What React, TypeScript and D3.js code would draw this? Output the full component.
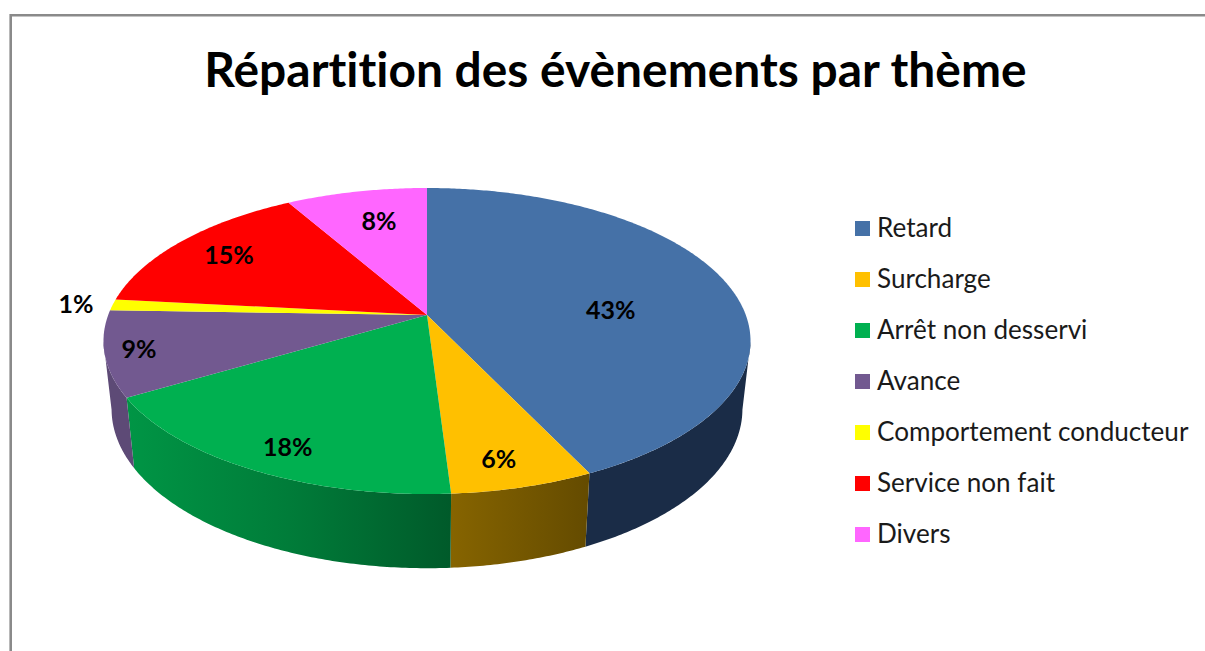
import React from 'react';
import * as d3 from 'd3';

const categories = ['Retard', 'Surcharge', 'Arrêt non desservi', 'Avance', 'Comportement conducteur', 'Service non fait', 'Divers'];
const values = [42.9, 6.1, 17.5, 9, 1.2, 15, 8.3];
const labels = ['43%', '6%', '18%', '9%', '1%', '15%', '8%'];
const colors = ['#4571a7', '#ffc000', '#00b050', '#725990', '#ffff00', '#ff0000', '#ff66ff'];

const width = 1205;
const height = 651;

// perspective of the disc: apex of the slices, tilt and size
const cx = 427;
const apexY = 315;
const tilt = 0.17;
const radiusX = 318.8;
const radiusY = 148.6;

// the bottom face is the top face shifted and slightly rescaled
const bottomScaleX = 0.975;
const bottomScaleY = 1.04;
const bottomY = 382;

const project = (angle: number, r = 1): [number, number] => {
  const u = r * Math.sin(angle);
  const v = -r * Math.cos(angle);
  const w = 1 - tilt * v;
  return [(radiusX * u) / w, (radiusY * v) / w];
};
const topPoint = (angle: number, r = 1): [number, number] => {
  const [x, y] = project(angle, r);
  return [cx + x, apexY + y];
};
const bottomPoint = (angle: number): [number, number] => {
  const [x, y] = project(angle);
  return [cx + x * bottomScaleX, bottomY + y * bottomScaleY];
};

const samples = (a0: number, a1: number) => {
  const n = Math.max(2, Math.ceil(Math.abs(a1 - a0) / 0.01));
  return d3.range(n + 1).map((i) => a0 + ((a1 - a0) * i) / n);
};

const line = d3.line<[number, number]>().curve(d3.curveLinearClosed);

const pie = d3.pie<number>().sort(null).value((d) => d);
const slices = pie(values);

const color = d3.scaleOrdinal<string, string>().domain(categories).range(colors);

const slicePath = (a0: number, a1: number) =>
  line([[cx, apexY], ...samples(a0, a1).map((a) => topPoint(a))]);

// visible part of the rim runs between the two silhouette points
const rimStart = (100 * Math.PI) / 180;
const rimEnd = (260 * Math.PI) / 180;
const wallPath = (a0: number, a1: number) => {
  const s = Math.max(a0, rimStart);
  const e = Math.min(a1, rimEnd);
  if (e <= s) return null;
  const as = samples(s, e);
  return line([...as.map((a) => topPoint(a)), ...as.slice().reverse().map((a) => bottomPoint(a))]);
};

// where each percentage sits on the disc (degrees clockwise from top, fraction of radius)
const labelAngle = [86.7, 166.9, 206.2, 255.8, 273.9, 303.1, 346.6];
const labelRadius = [0.581, 0.854, 0.86, 0.897, 1.118, 0.796, 0.729];

const legendY = d3.scalePoint<string>().domain(categories).range([229, 535]);

export default function App() {
  return (
    <svg width={width} height={height} style={{ position: 'absolute', left: 0, top: 0, background: '#fff' }}>
      <defs>
        <linearGradient id="wall-orange" gradientUnits="userSpaceOnUse" x1="451" x2="589" y1="0" y2="0">
          <stop offset="0" stopColor="#866400" />
          <stop offset="1" stopColor="#644b00" />
        </linearGradient>
        <linearGradient id="wall-green" gradientUnits="userSpaceOnUse" x1="128" x2="451" y1="0" y2="0">
          <stop offset="0" stopColor="#009545" />
          <stop offset="0.5" stopColor="#007c39" />
          <stop offset="1" stopColor="#005a2a" />
        </linearGradient>
      </defs>

      <path d="M10.7,651V15.3H1205" fill="none" stroke="#8a8a8a" strokeWidth={2.6} />

      <text
        x={615.5}
        y={87}
        textAnchor="middle"
        fontFamily="Lato"
        fontWeight={700}
        fontSize={47.9}
        fill="#000"
        style={{ fontVariantLigatures: 'none' }}
      >
        Répartition des évènements par thème
      </text>

      {/* rim */}
      {slices.map((d, i) => {
        const fills = ['#1a2c47', 'url(#wall-orange)', 'url(#wall-green)', '#5d4a76', '#a6a600', '#a60000', '#a642a6'];
        const p = wallPath(d.startAngle, d.endAngle);
        return p ? <path key={i} d={p} fill={fills[i]} /> : null;
      })}

      {/* top face */}
      {slices.map((d, i) => (
        <path key={i} d={slicePath(d.startAngle, d.endAngle) as string} fill={color(categories[i])} />
      ))}

      {labels.map((t, i) => {
        const [x, y] = topPoint((labelAngle[i] * Math.PI) / 180, labelRadius[i]);
        return (
          <text key={t} x={x} y={y - 1.2} textAnchor="middle" dominantBaseline="central" fontFamily="Lato" fontWeight={700} fontSize={25} fill="#000">
            {t}
          </text>
        );
      })}

      {/* legend */}
      {categories.map((c) => (
        <g key={c} transform={`translate(0,${legendY(c)})`}>
          <rect x={855} y={-8} width={15} height={15} fill={color(c)} />
          <text x={877} y={8} fontFamily="Lato" fontSize={26.1} fill="#1a1a1a" style={{ fontVariantLigatures: 'none' }}>
            {c}
          </text>
        </g>
      ))}
    </svg>
  );
}
